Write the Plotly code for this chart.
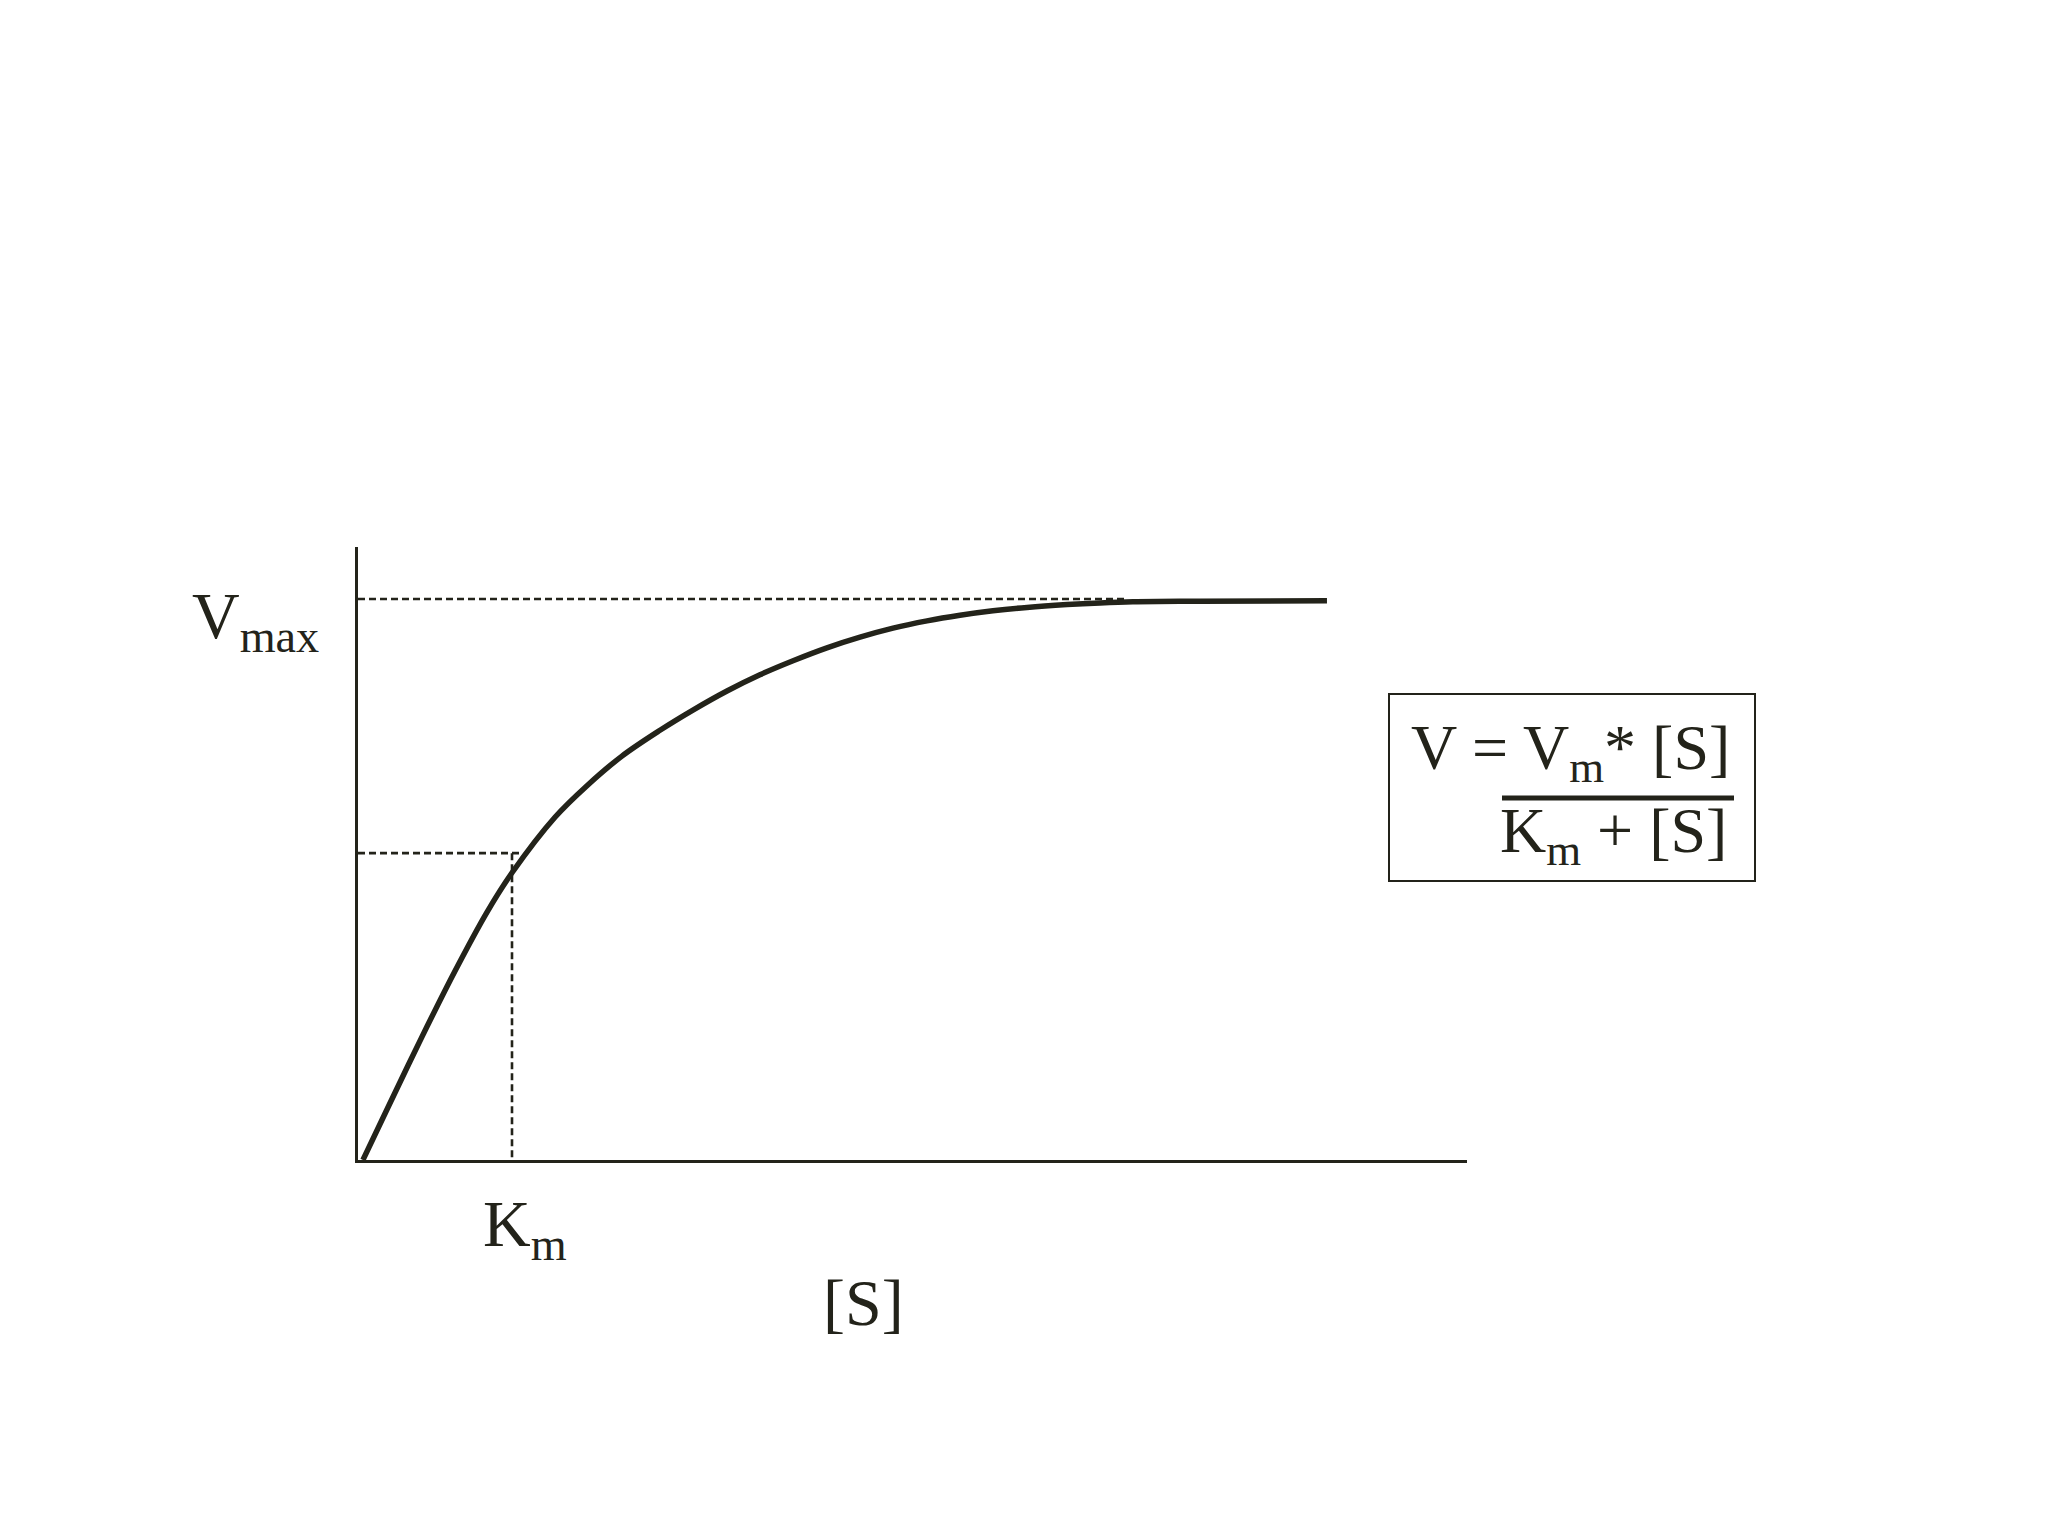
import plotly.graph_objects as go

# Curve ([S] in units of Km, V in units of Vmax)
s_vals = [0.032, 0.195, 0.416, 0.630, 0.838, 1.000, 1.279, 1.494, 1.714, 1.961, 2.175,
          2.396, 2.610, 2.825, 3.045, 3.260, 3.474, 3.695, 3.909, 4.123, 4.344, 4.604,
          4.818, 5.032, 5.468, 6.292]
v_vals = [0.0, 0.094, 0.220, 0.337, 0.442, 0.512, 0.611, 0.669, 0.720, 0.766, 0.802,
          0.836, 0.865, 0.890, 0.913, 0.932, 0.948, 0.961, 0.971, 0.979, 0.985, 0.990,
          0.993, 0.995, 0.996, 0.997]

vmax_line_x = [0.0, 4.98]
vmax_line_y = [1.0, 1.0]
km_h_x = [0.0, 1.05]
km_h_y = [0.547, 0.547]
km_v_x = [1.0, 1.0]
km_v_y = [0.547, 0.0]

labels = {"vmax": "V<sub>max</sub>", "km": "K<sub>m</sub>", "s": "[S]"}
eq_num = "V = V<sub>m</sub>* [S]"
eq_den = "K<sub>m</sub> + [S]"

INK = "#23231a"
FONT = "Liberation Serif"

fig = go.Figure()
dash_style = dict(color=INK, width=2.6, dash="7px,4px")
fig.add_trace(go.Scatter(x=vmax_line_x, y=vmax_line_y, mode="lines", line=dash_style,
                         hoverinfo="skip", showlegend=False))
fig.add_trace(go.Scatter(x=km_h_x, y=km_h_y, mode="lines", line=dash_style,
                         hoverinfo="skip", showlegend=False))
fig.add_trace(go.Scatter(x=km_v_x, y=km_v_y, mode="lines", line=dash_style,
                         hoverinfo="skip", showlegend=False))
fig.add_trace(go.Scatter(x=s_vals, y=v_vals, mode="lines",
                         line=dict(color=INK, width=5.5, shape="spline", smoothing=1.0),
                         showlegend=False, cliponaxis=False))

# page is shown with an 8px body margin, so the figure is 16px smaller
OFF = 8
W, H = 2048 - 2 * OFF, 1536 - 2 * OFF
L, R, T, B = 358, 1467, 547, 1160          # plot area in page pixels
px_w, px_h = R - L, B - T


def px(xp):
    return (xp - L) / px_w


def py(yp):
    return (B - yp) / px_h


fig.update_layout(
    width=W, height=H,
    margin=dict(l=L - OFF, r=W - (R - OFF), t=T - OFF, b=H - (B - OFF), pad=0),
    paper_bgcolor="white", plot_bgcolor="white",
    xaxis=dict(range=[0, px_w / 154.0], showgrid=False, zeroline=False,
               showticklabels=False, ticks="", showline=True, linecolor=INK,
               linewidth=3, fixedrange=True),
    yaxis=dict(range=[0, px_h / 561.0], showgrid=False, zeroline=False,
               showticklabels=False, ticks="", showline=True, linecolor=INK,
               linewidth=3, fixedrange=True),
    font=dict(family=FONT, color=INK, size=66),
)

ann_font = dict(family=FONT, color=INK, size=66)
eq_font = dict(family=FONT, color=INK, size=64)
fig.add_annotation(text=labels["vmax"], xref="paper", yref="paper", x=px(190), y=py(620),
                   xanchor="left", yanchor="middle", showarrow=False, font=ann_font)
fig.add_annotation(text=labels["km"], xref="paper", yref="paper", x=px(481), y=py(1228),
                   xanchor="left", yanchor="middle", showarrow=False, font=ann_font)
fig.add_annotation(text=labels["s"], xref="paper", yref="paper", x=px(863), y=py(1302),
                   xanchor="center", yanchor="middle", showarrow=False, font=ann_font)
fig.add_annotation(text=eq_num, xref="paper", yref="paper", x=px(1570), y=py(752),
                   xanchor="center", yanchor="middle", showarrow=False, font=eq_font)
fig.add_annotation(text=eq_den, xref="paper", yref="paper", x=px(1613), y=py(835),
                   xanchor="center", yanchor="middle", showarrow=False, font=eq_font)

fig.add_shape(type="rect", xref="paper", yref="paper", x0=px(1389), x1=px(1755),
              y0=py(881), y1=py(694), line=dict(color=INK, width=2))
fig.add_shape(type="line", xref="paper", yref="paper", x0=px(1502), x1=px(1734),
              y0=py(798), y1=py(798), line=dict(color=INK, width=5))

fig.write_html("out.html")
